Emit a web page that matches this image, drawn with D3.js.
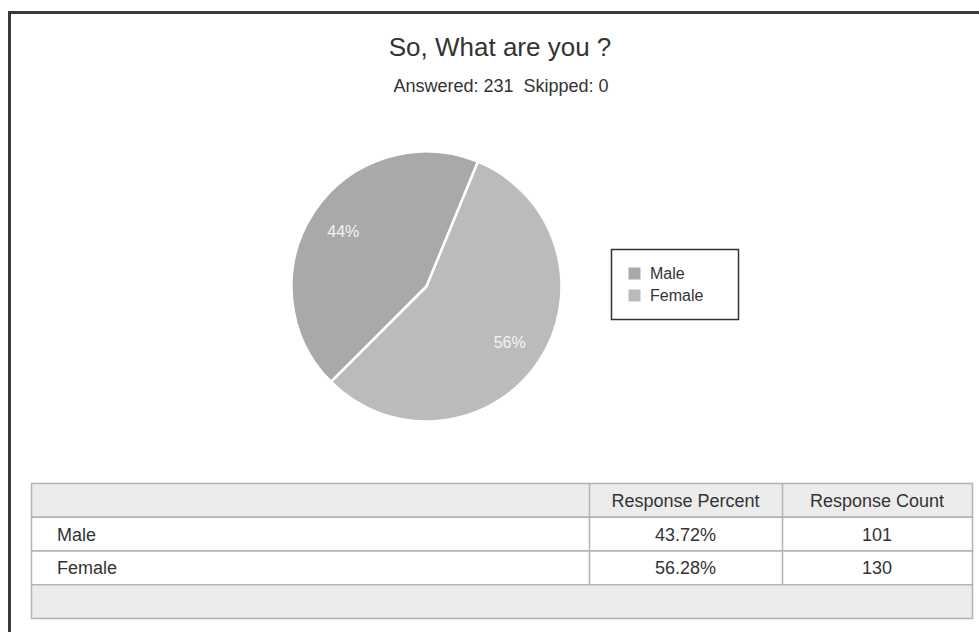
<!DOCTYPE html>
<html>
<head>
<meta charset="utf-8">
<script src="https://cdn.jsdelivr.net/npm/d3@7"></script>
<style>
  body { margin: 0; background: #fff; }
  svg text { font-family: "Liberation Sans", Arial, Helvetica, sans-serif; }
</style>
</head>
<body>
<div id="chart"></div>
<script>
// Data
const categories = ["Male", "Female"];
const counts = [101, 130];
const percentLabels = ["43.72%", "56.28%"];
const sliceLabels = ["44%", "56%"];
const colHeaders = ["", "Response Percent", "Response Count"];
const titleText = "So, What are you ?";
const subtitleText = "Answered: 231\u00a0\u00a0Skipped: 0";

const width = 979, height = 632;

const svg = d3.select("#chart")
    .append("svg")
    .attr("width", width)
    .attr("height", height);

// Frame round the whole thing (right and bottom run off the page)
svg.append("rect")
    .attr("x", 9.5).attr("y", 12.5)
    .attr("width", 1100).attr("height", 800)
    .attr("fill", "#fff")
    .attr("stroke", "#3a3a3a")
    .attr("stroke-width", 3);

// Title
svg.append("text")
    .attr("x", 500).attr("y", 56)
    .attr("text-anchor", "middle")
    .attr("font-size", 26)
    .attr("fill", "#333")
    .text(titleText);

svg.append("text")
    .attr("x", 501).attr("y", 92)
    .attr("text-anchor", "middle")
    .attr("font-size", 18)
    .attr("fill", "#333")
    .text(subtitleText);

// Pie
const color = d3.scaleOrdinal()
    .domain(categories)
    .range(["#a9a9a9", "#bbbbbb"]);

const cx = 426.5, cy = 286.5, radius = 135;

const pie = d3.pie()
    .sort(null)
    .startAngle(-Math.PI * 0.75)
    .endAngle(Math.PI * 1.25)
    .value(d => d.count);

const pieData = pie(categories.map((c, i) => ({ name: c, count: counts[i], label: sliceLabels[i] })));

const arc = d3.arc().innerRadius(0).outerRadius(radius);
const labelArc = d3.arc().innerRadius(100).outerRadius(100);

const g = svg.append("g")
    .attr("transform", `translate(${cx}, ${cy})`);

g.selectAll("path")
    .data(pieData)
    .join("path")
    .attr("d", arc)
    .attr("fill", d => color(d.data.name))
    .attr("stroke", "#fff")
    .attr("stroke-width", 2.5)
    .attr("stroke-linejoin", "round");

g.selectAll("text")
    .data(pieData)
    .join("text")
    .attr("transform", d => `translate(${labelArc.centroid(d)})`)
    .attr("text-anchor", "middle")
    .attr("dy", "0.35em")
    .attr("font-size", 16)
    .attr("fill", "#f4f4f4")
    .text(d => d.data.label);

// Legend
const legend = svg.append("g").attr("transform", "translate(611.5, 249.5)");
legend.append("rect")
    .attr("width", 127).attr("height", 70)
    .attr("fill", "#fff")
    .attr("stroke", "#333")
    .attr("stroke-width", 1.5);

const legendY = d3.scaleBand().domain(categories).range([13, 57]);

legend.selectAll("rect.sw")
    .data(categories)
    .join("rect")
    .attr("class", "sw")
    .attr("x", 17)
    .attr("y", d => legendY(d) + 5)
    .attr("width", 12).attr("height", 12)
    .attr("fill", d => color(d));

legend.selectAll("text")
    .data(categories)
    .join("text")
    .attr("x", 38.5)
    .attr("y", d => legendY(d) + 16.5)
    .attr("font-size", 16)
    .attr("fill", "#333")
    .text(d => d);

// Table
const colEdges = [31, 589, 782, 972];
const rowKeys = ["head", ...categories, "foot"];
const rowY = d3.scaleBand().domain(rowKeys).range([483.5, 618.5]);

const table = svg.append("g");

table.selectAll("rect.row")
    .data(rowKeys)
    .join("rect")
    .attr("class", "row")
    .attr("x", colEdges[0] + 0.5)
    .attr("y", d => rowY(d))
    .attr("width", colEdges[3] - colEdges[0])
    .attr("height", rowY.bandwidth())
    .attr("fill", d => (d === "head" || d === "foot") ? "#ececec" : "#fff")
    .attr("stroke", "#b3b3b3")
    .attr("stroke-width", 1.5);

// column separators (header + data rows only)
table.selectAll("line.col")
    .data(colEdges.slice(1, 3))
    .join("line")
    .attr("class", "col")
    .attr("x1", d => d + 0.5).attr("x2", d => d + 0.5)
    .attr("y1", rowY("head"))
    .attr("y2", rowY("foot"))
    .attr("stroke", "#b3b3b3")
    .attr("stroke-width", 1.5);

const textY = k => rowY(k) + rowY.bandwidth() / 2 + 6.5;

table.selectAll("text.head")
    .data(colHeaders.slice(1))
    .join("text")
    .attr("class", "head")
    .attr("x", (d, i) => (colEdges[i + 1] + colEdges[i + 2]) / 2)
    .attr("y", textY("head"))
    .attr("text-anchor", "middle")
    .attr("font-size", 18)
    .attr("fill", "#333")
    .text(d => d);

const rows = table.selectAll("g.datarow")
    .data(categories)
    .join("g")
    .attr("class", "datarow");

rows.append("text")
    .attr("x", 57)
    .attr("y", d => textY(d))
    .attr("font-size", 18)
    .attr("fill", "#333")
    .text(d => d);

rows.append("text")
    .attr("x", (colEdges[1] + colEdges[2]) / 2)
    .attr("y", d => textY(d))
    .attr("text-anchor", "middle")
    .attr("font-size", 18)
    .attr("fill", "#333")
    .text((d, i) => percentLabels[i]);

rows.append("text")
    .attr("x", (colEdges[2] + colEdges[3]) / 2)
    .attr("y", d => textY(d))
    .attr("text-anchor", "middle")
    .attr("font-size", 18)
    .attr("fill", "#333")
    .text((d, i) => counts[i]);
</script>
</body>
</html>
